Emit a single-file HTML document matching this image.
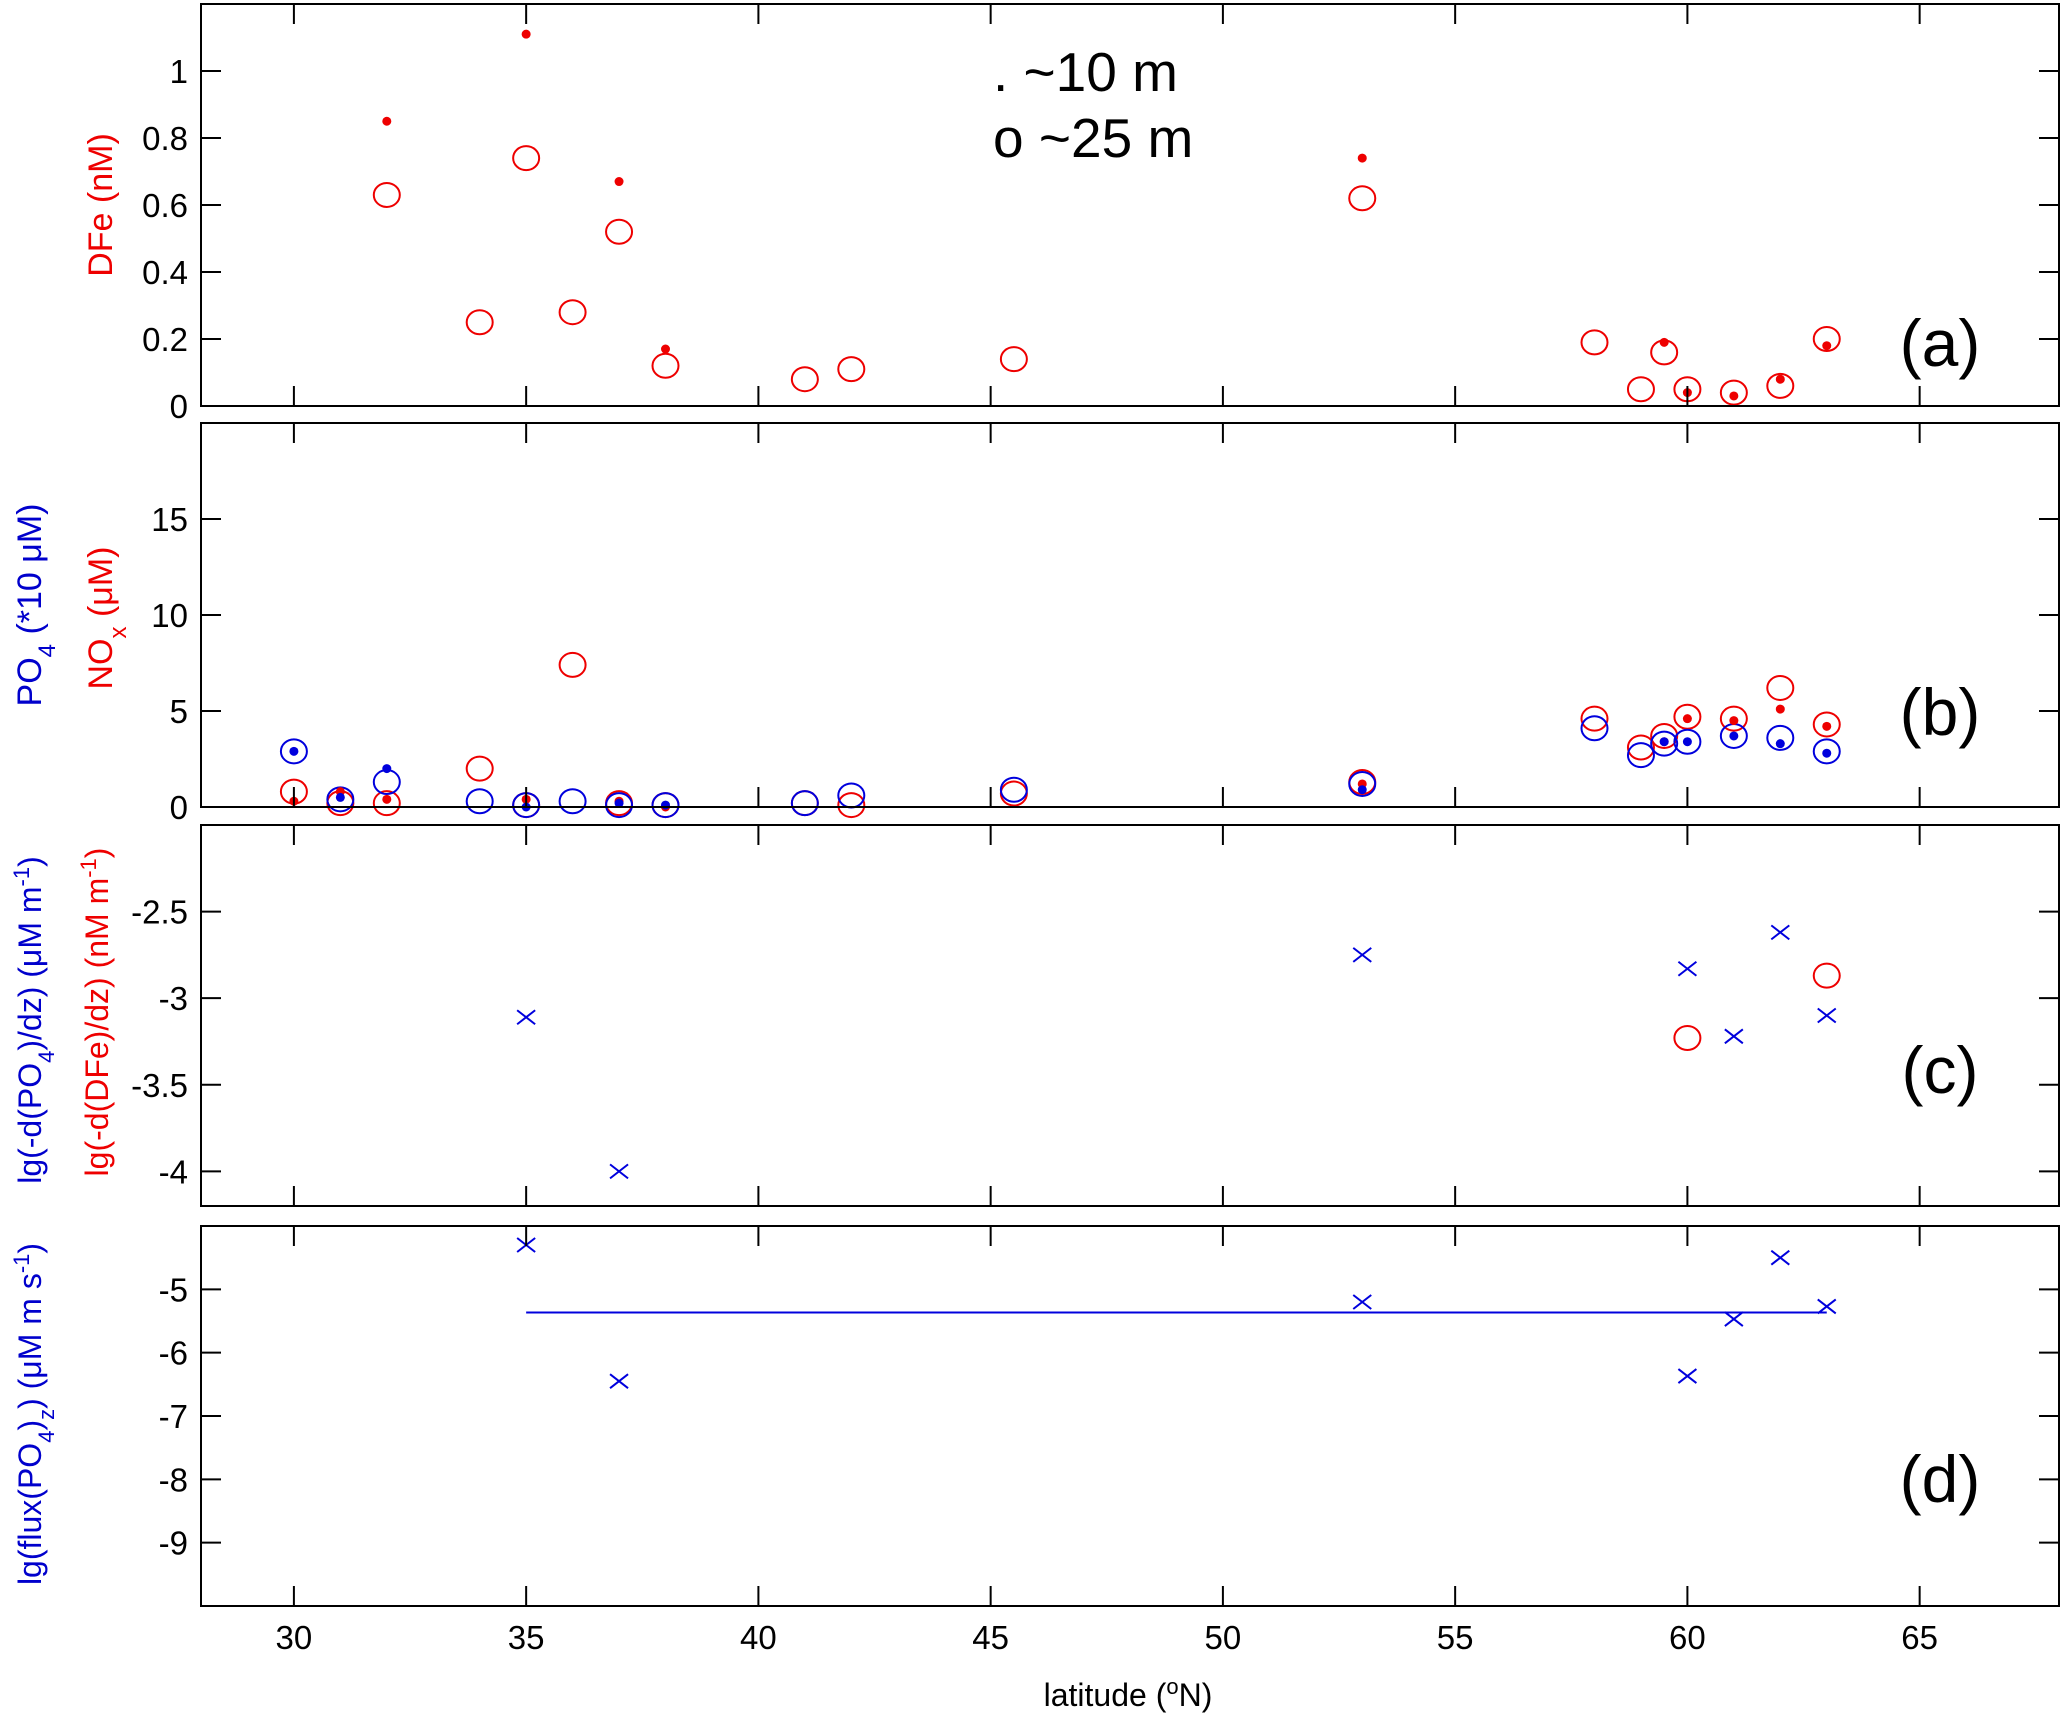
<!DOCTYPE html>
<html><head><meta charset="utf-8">
<style>
html,body{margin:0;padding:0;background:#fff;}
svg{display:block;font-family:"Liberation Sans",Arial,sans-serif;}
</style></head>
<body>
<svg id="fig" width="2067" height="1714" viewBox="0 0 2067 1714" xmlns="http://www.w3.org/2000/svg">
<rect x="0" y="0" width="2067" height="1714" fill="#fff"/>
<g id="marks"></g>
<g id="axes"></g>
<text x="993" y="91" font-size="55" fill="#000">. ~10 m</text>
<text x="993" y="157" font-size="55" fill="#000">o ~25 m</text>
<text x="1128" y="1706" font-size="32" text-anchor="middle" fill="#000">latitude (<tspan baseline-shift="super" font-size="22">o</tspan>N)</text>
<text transform="translate(112,205) rotate(-90)" font-size="34" text-anchor="middle" fill="#e00">DFe (nM)</text>
<text transform="translate(41,605) rotate(-90)" font-size="34" text-anchor="middle" fill="#00c">PO<tspan baseline-shift="sub" font-size="24">4</tspan> (*10 μM)</text>
<text transform="translate(112,618) rotate(-90)" font-size="34" text-anchor="middle" fill="#e00">NO<tspan baseline-shift="sub" font-size="24">x</tspan> (μM)</text>
<text transform="translate(41,1020) rotate(-90)" font-size="32" text-anchor="middle" fill="#00c">lg(-d(PO<tspan baseline-shift="sub" font-size="22">4</tspan>)/dz) (μM m<tspan baseline-shift="super" font-size="22">-1</tspan>)</text>
<text transform="translate(108,1012) rotate(-90)" font-size="32" text-anchor="middle" fill="#e00">lg(-d(DFe)/dz) (nM m<tspan baseline-shift="super" font-size="22">-1</tspan>)</text>
<text transform="translate(41,1414) rotate(-90)" font-size="32" text-anchor="middle" fill="#00c">lg(flux(PO<tspan baseline-shift="sub" font-size="22">4</tspan>)<tspan baseline-shift="sub" font-size="22">z</tspan>) (μM m s<tspan baseline-shift="super" font-size="22">-1</tspan>)</text>
<text x="1940" y="366" font-size="66" text-anchor="middle" fill="#000">(a)</text>
<text x="1940" y="735" font-size="66" text-anchor="middle" fill="#000">(b)</text>
<text x="1940" y="1093" font-size="66" text-anchor="middle" fill="#000">(c)</text>
<text x="1940" y="1502" font-size="66" text-anchor="middle" fill="#000">(d)</text>
</svg>
<script>
// ---- data ----
const xTicks = [30,35,40,45,50,55,60,65];
// panel a
const aDotLat = [32,35,37,38,53,59.5,60,61,62,63];
const aDotVal = [0.85,1.11,0.67,0.17,0.74,0.19,0.04,0.03,0.08,0.18];
const aCircLat = [32,34,35,36,37,38,41,42,45.5,53,58,59,59.5,60,61,62,63];
const aCircVal = [0.63,0.25,0.74,0.28,0.52,0.12,0.08,0.11,0.14,0.62,0.19,0.05,0.16,0.05,0.04,0.06,0.20];
const aTicks = [0,0.2,0.4,0.6,0.8,1];
// panel b
const bCircLat = [30,31,32,34,35,36,37,38,41,42,45.5,53,58,59,59.5,60,61,62,63];
const bPO4Circ = [2.9,0.4,1.3,0.3,0.1,0.3,0.1,0.1,0.2,0.6,0.9,1.2,4.1,2.7,3.3,3.4,3.7,3.6,2.9];
const bNOxCirc = [0.8,0.2,0.2,2.0,0.1,7.4,0.2,0.1,0.2,0.1,0.7,1.3,4.6,3.1,3.7,4.7,4.6,6.2,4.3];
const bDotLat = [30,31,32,35,37,38,53,59.5,60,61,62,63];
const bPO4Dot = [2.9,0.5,2.0,0.0,0.2,0.1,0.9,3.4,3.4,3.7,3.3,2.8];
const bNOxDot = [0.3,0.8,0.4,0.4,0.3,0.0,1.2,3.4,4.6,4.5,5.1,4.2];
const bTicks = [0,5,10,15];
// panel c
const cXLat = [35,37,53,60,61,62,63];
const cXVal = [-3.11,-4.0,-2.75,-2.83,-3.22,-2.62,-3.10];
const cCircLat = [60,63];
const cCircVal = [-3.23,-2.87];
const cTicks = [-4,-3.5,-3,-2.5];
// panel d
const dXLat = [35,37,53,60,61,62,63];
const dXVal = [-4.3,-6.45,-5.2,-6.37,-5.47,-4.5,-5.27];
const dTicks = [-9,-8,-7,-6,-5];

// ---- layout ----
const NS='http://www.w3.org/2000/svg';
const X0=201, X1=2059, XMIN=28, XMAX=68;
const xs = v => X0 + (v-XMIN)/(XMAX-XMIN)*(X1-X0);
const panels = [
 {id:'a', top:4, bot:406, ymin:0, ymax:1.2, ticks:aTicks},
 {id:'b', top:423, bot:807, ymin:0, ymax:20, ticks:bTicks},
 {id:'c', top:825, bot:1206, ymin:-4.2, ymax:-2, ticks:cTicks},
 {id:'d', top:1226, bot:1606, ymin:-10, ymax:-4, ticks:dTicks}
];
panels.forEach(p => p.ys = v => p.bot - (v-p.ymin)/(p.ymax-p.ymin)*(p.bot-p.top));
const marks=document.getElementById('marks');
const axes=document.getElementById('axes');
function mk(tag,attrs,parent){const e=document.createElementNS(NS,tag);for(const k in attrs)e.setAttribute(k,attrs[k]);parent.appendChild(e);return e;}

panels.forEach(p=>{
  const f=mk('rect',{x:X0,y:p.top,width:X1-X0,height:p.bot-p.top,fill:'none',stroke:'#000','stroke-width':2},axes);
  
  
  xTicks.forEach(t=>{
    const x=xs(t);
    const t1=mk('line',{x1:x,y1:p.top,x2:x,y2:p.top+20,stroke:'#000','stroke-width':2},axes);
    
    
    const t2=mk('line',{x1:x,y1:p.bot,x2:x,y2:p.bot-20,stroke:'#000','stroke-width':2},axes);
    
    
  });
  p.ticks.forEach(t=>{
    const y=p.ys(t);
    const l1=mk('line',{x1:X0,y1:y,x2:X0+20,y2:y,stroke:'#000','stroke-width':2},axes);
    
    
    const l2=mk('line',{x1:X1,y1:y,x2:X1-20,y2:y,stroke:'#000','stroke-width':2},axes);
    
    
    const tx=mk('text',{x:188,y:y+12,'font-size':33,'text-anchor':'end',fill:'#000'},axes);
    tx.textContent=String(t);
    
    
  });
});
xTicks.forEach(t=>{
  const tx=mk('text',{x:xs(t),y:1649,'font-size':33,'text-anchor':'middle',fill:'#000'},axes);
  tx.textContent=String(t);
  
  
});

function circ(p,lat,vals,color,name){
  lat.forEach((l,i)=>{
    const e=mk('ellipse',{cx:xs(l),cy:p.ys(vals[i]),rx:13,ry:12,fill:'none',stroke:color,'stroke-width':2},marks);
    
    
  });
}
function dots(p,lat,vals,color,name){
  lat.forEach((l,i)=>{
    const e=mk('circle',{cx:xs(l),cy:p.ys(vals[i]),r:4.5,fill:color},marks);
    
    
  });
}
function crosses(p,lat,vals,color,name){
  lat.forEach((l,i)=>{
    const x=xs(l), y=p.ys(vals[i]);
    const e=mk('path',{d:`M${x-9},${y-7}L${x+9},${y+7}M${x-9},${y+7}L${x+9},${y-7}`,stroke:color,'stroke-width':2,fill:'none'},marks);
    
    
  });
}
const R='#ee0000', B='#0000dd';
const [pa,pb,pc,pd]=panels;
circ(pa,aCircLat,aCircVal,R,'dfe-25m-point');
dots(pa,aDotLat,aDotVal,R,'dfe-10m-point');
circ(pb,bCircLat,bNOxCirc,R,'nox-25m-point');
circ(pb,bCircLat,bPO4Circ,B,'po4-25m-point');
dots(pb,bDotLat,bNOxDot,R,'nox-10m-point');
dots(pb,bDotLat,bPO4Dot,B,'po4-10m-point');
crosses(pc,cXLat,cXVal,B,'po4-gradient-point');
circ(pc,cCircLat,cCircVal,R,'dfe-gradient-point');
crosses(pd,dXLat,dXVal,B,'po4-flux-point');
const mean=dXVal.reduce((a,b)=>a+b,0)/dXVal.length;
const ml=mk('line',{x1:xs(Math.min(...dXLat)),y1:pd.ys(mean),x2:xs(Math.max(...dXLat)),y2:pd.ys(mean),stroke:B,'stroke-width':2},marks);


</script>
</body></html>
